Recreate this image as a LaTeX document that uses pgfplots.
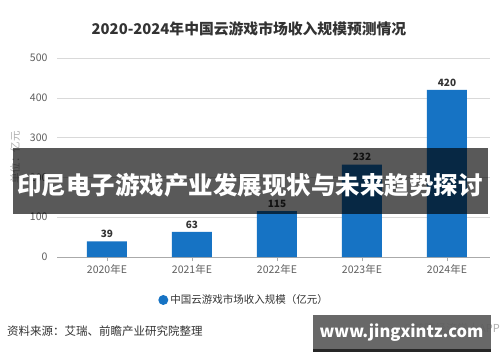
\documentclass[border=0pt]{standalone}
\usepackage{pgfplots}
\pgfplotsset{compat=1.18}
\usepackage{fontspec}
\setmainfont{Noto Sans CJK SC}
\definecolor{barblue}{RGB}{22,115,196}
\definecolor{titlegray}{RGB}{51,51,51}
\definecolor{tickgray}{RGB}{95,95,95}
\definecolor{gridgray}{RGB}{217,217,217}
\definecolor{axgray}{RGB}{170,170,170}
\definecolor{lblgray}{RGB}{175,175,175}
\definecolor{badgegray}{RGB}{92,92,92}
\begin{document}
\begin{tikzpicture}[x=1pt,y=1pt]
\useasboundingbox (0,0) rectangle (500,362);
\fill[white] (0,0) rectangle (500,362);
\node[font=\bfseries\fontsize{14.8}{16}\selectfont, text=titlegray] at (249,333) {2020-2024年中国云游戏市场收入规模预测情况};
\begin{axis}[
  at={(57pt,105pt)}, anchor=south west,
  scale only axis, width=433pt, height=199pt,
  xmin=-0.588, xmax=4.506, ymin=0, ymax=500,
  ybar, bar width=40pt,
  ytick={0,100,200,300,400,500},
  xtick={0,1,2,3,4},
  xticklabels={2020年E,2021年E,2022年E,2023年E,2024年E},
  /pgf/number format/assume math mode=true,
  ymajorgrids, grid style={color=gridgray, line width=0.6pt},
  axis x line*=bottom, axis y line*=left,
  y axis line style={draw=none},
  x axis line style={draw=axgray, line width=0.7pt, -},
  ytick style={draw=none},
  xtick style={draw=axgray, line width=0.6pt},
  tick align=outside, major tick length=4pt,
  yticklabel style={font=\fontsize{10.5}{12}\selectfont, text=tickgray, xshift=-2pt},
  xticklabel style={font=\fontsize{10.5}{12}\selectfont, text=tickgray},
  ylabel={单位：亿元},
  ylabel style={at={(axis description cs:-0.097,0.5)}, anchor=center, font=\fontsize{10.5}{12}\selectfont, text=lblgray},
  legend style={at={(axis description cs:0.432,-0.216)}, anchor=center, draw=none, fill=none,
    font=\fontsize{10.5}{12}\selectfont, text=titlegray},
  nodes near coords,
  every node near coord/.append style={font=\bfseries\fontsize{10}{12}\selectfont, text=titlegray},
]
\addplot[fill=barblue, draw=none,
  legend image code/.code={\fill[barblue] (-1pt,0pt) circle (5pt);}]
  coordinates {(0,39) (1,63) (2,115) (3,232) (4,420)};
\addlegendentry{中国云游戏市场收入规模（亿元）}
\end{axis}
\node[anchor=west, font=\fontsize{11.5}{13}\selectfont, text=titlegray, inner sep=0pt] at (7,31) {资料来源：艾瑞、前瞻产业研究院整理};
\node[anchor=east, font=\fontsize{11}{13}\selectfont, text=lblgray, inner sep=0pt] at (500,33) {@前瞻经济学人APP};
\fill[black, opacity=0.65] (13,148) rectangle (488,214);
\node[font=\bfseries\fontsize{24.5}{26}\selectfont, text=white] at (250,177) {印尼电子游戏产业发展现状与未来趋势探讨};
\fill[badgegray, opacity=0.92] (313,13) rectangle (491,47);
\fill[black!85] (313,10) rectangle (491,13);
\node[font=\bfseries\fontsize{16.5}{18}\selectfont, text=white] at (401.5,29) {www.jingxintz.com};
\end{tikzpicture}
\end{document}
